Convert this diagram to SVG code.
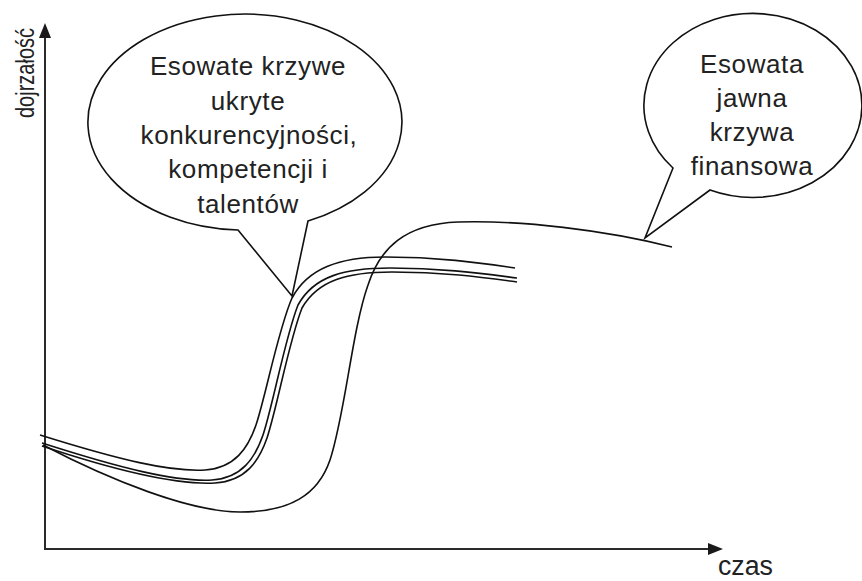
<svg xmlns="http://www.w3.org/2000/svg" width="862" height="581" viewBox="0 0 862 581">
  <style>
    .axis { stroke: #2a2a2a; stroke-width: 2; fill: none; }
    .head { fill: #1a1a1a; stroke: none; }
    .curve { stroke: #111; stroke-width: 1.6; fill: none; }
    .bubble { fill: #fff; stroke: #111; stroke-width: 1.6; stroke-linejoin: miter; }
    .lbl { font-family: "Liberation Sans", Arial, sans-serif; font-size: 26px; fill: #222; text-anchor: middle; letter-spacing: 0.6px; }
    .axlbl { font-family: "Liberation Sans", Arial, sans-serif; fill: #222; }
  </style>

  <rect width="862" height="581" fill="#fff"/>

  <!-- axes -->
  <g id="axes">
    <path class="axis" d="M45 36 L45 549 L710 549"/>
    <path class="head" d="M45 23 L51 38 L39 38 Z"/>
    <path class="head" d="M723 549 L708 543 L708 555 Z"/>
    <text class="axlbl" font-size="26" text-anchor="middle" textLength="90" lengthAdjust="spacingAndGlyphs" transform="translate(34 73) rotate(-90)">dojrzałość</text>
    <text class="axlbl" font-size="27" x="718" y="575" textLength="55" lengthAdjust="spacingAndGlyphs">czas</text>
  </g>

  <!-- S-curves -->
  <g id="connectors">
    <path id="curve-competence-1" class="curve" d="M40 435 C120 460, 170 472, 205 470 C235 468, 248 448, 256 425 C266 395, 278 330, 292 298 C308 268, 340 257, 385 257 C440 257, 480 263, 515 268"/>
    <path id="curve-competence-2" class="curve" d="M42 443 C120 468, 175 482, 212 480 C242 478, 255 458, 263 435 C273 405, 285 338, 298 305 C314 276, 345 268, 390 268 C445 268, 485 274, 517 278"/>
    <path id="curve-competence-3" class="curve" d="M42 446 C120 472, 178 485, 215 483 C246 481, 259 461, 267 438 C277 408, 289 341, 302 308 C318 280, 348 272, 392 272 C447 272, 487 278, 517 282"/>
    <path id="curve-financial" class="curve" d="M43 445 C110 480, 190 512, 240 512 C290 512, 318 495, 330 460 C345 415, 352 330, 368 285 C380 248, 405 224, 458 222 C520 220, 605 230, 672 247"/>
  </g>

  <!-- callout: hidden curves -->
  <g id="callout-hidden">
    <path class="bubble" d="M238 230 L292 296 L308 221 A157 108 0 1 0 238 230 Z"/>
    <text class="lbl" x="248" y="75">Esowate krzywe</text>
    <text class="lbl" x="248" y="110">ukryte</text>
    <text class="lbl" x="249" y="144">konkurencyjności,</text>
    <text class="lbl" x="248" y="178">kompetencji i</text>
    <text class="lbl" x="248" y="213">talentów</text>
  </g>

  <!-- callout: financial curve -->
  <g id="callout-financial">
    <path class="bubble" d="M673 168 L645 238 L710 190 A109 92 0 1 0 673 168 Z"/>
    <text class="lbl" x="752" y="73">Esowata</text>
    <text class="lbl" x="752" y="107">jawna</text>
    <text class="lbl" x="752" y="141">krzywa</text>
    <text class="lbl" x="752" y="175">finansowa</text>
  </g>
</svg>
